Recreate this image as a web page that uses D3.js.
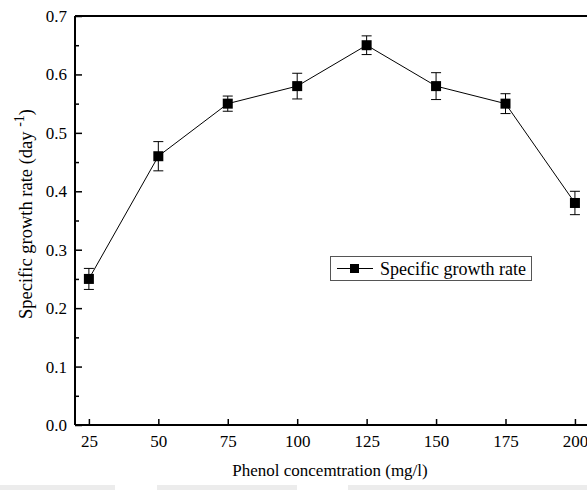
<!DOCTYPE html>
<html><head><meta charset="utf-8">
<script src="https://cdn.jsdelivr.net/npm/d3@7"></script>
<style>body{margin:0;background:#fff}svg{display:block}text{font-family:"Liberation Serif","Times New Roman",serif;fill:#000}</style>
</head><body>
<script>
const concentrations = [25, 50, 75, 100, 125, 150, 175, 200];
const growthRate = [0.25, 0.46, 0.55, 0.58, 0.65, 0.58, 0.55, 0.38];
const errors = [0.018, 0.025, 0.013, 0.022, 0.016, 0.023, 0.017, 0.02];
const xTicks = [25, 50, 75, 100, 125, 150, 175, 200];
const yTicks = [0.0, 0.1, 0.2, 0.3, 0.4, 0.5, 0.6, 0.7];
const seriesName = "Specific growth rate";

const W = 587, H = 490;
const svg = d3.select("body").append("svg").attr("width", W).attr("height", H);
const x = d3.scaleLinear().domain([20, 206]).range([75, 591.6]);
const y = d3.scaleLinear().domain([0, 0.7]).range([425, 16]);

// faint grey bands at bottom (artifact in source)
[[0,115],[157,297],[348,587]].forEach(([a,b])=>{
  svg.append("rect").attr("x",a).attr("y",485).attr("width",b-a).attr("height",5).attr("fill","#ececec");
});

// frame top
svg.append("line").attr("x1",75).attr("x2",W).attr("y1",16).attr("y2",16).attr("stroke","#000").attr("stroke-width",2);

const xAxis = svg.append("g").attr("transform","translate(0,425)")
  .call(d3.axisBottom(x).tickValues(xTicks).tickSize(-6).tickPadding(10).tickFormat(d3.format("d")));
const yAxis = svg.append("g").attr("transform","translate(75,0)")
  .call(d3.axisLeft(y).tickValues(yTicks).tickSize(-7).tickPadding(8).tickFormat(d3.format(".1f")));
const yMinor = svg.append("g").attr("transform","translate(75,0)")
  .call(d3.axisLeft(y).tickValues(d3.range(0.05,0.7,0.1)).tickSize(-4).tickFormat(""));
yMinor.select(".domain").remove();
[xAxis,yAxis,yMinor].forEach(g=>{
  g.selectAll("path.domain").attr("stroke","#000").attr("stroke-width",2);
  g.selectAll(".tick line").attr("stroke","#000").attr("stroke-width",1.5);
  g.selectAll("text").style("font-family","Liberation Serif").style("font-size","17px").attr("fill","#000");
});
xAxis.select(".domain").attr("d","M75,0H"+W);
yAxis.select(".domain").attr("d","M0,16V425");

const data = concentrations.map((c,i)=>({c, v:growthRate[i], e:errors[i]}));

// line
svg.append("path").datum(data)
  .attr("d", d3.line().x(d=>x(d.c)).y(d=>y(d.v)))
  .attr("fill","none").attr("stroke","#000").attr("stroke-width",1);

// error bars
const eb = svg.append("g").attr("stroke","#000").attr("stroke-width",1);
data.forEach(d=>{
  eb.append("line").attr("x1",x(d.c)).attr("x2",x(d.c)).attr("y1",y(d.v-d.e)).attr("y2",y(d.v+d.e));
  [d.v-d.e, d.v+d.e].forEach(v=>eb.append("line").attr("x1",x(d.c)-5).attr("x2",x(d.c)+5).attr("y1",y(v)).attr("y2",y(v)));
});

// markers
svg.append("g").selectAll("rect").data(data).join("rect")
  .attr("x",d=>x(d.c)-5).attr("y",d=>y(d.v)-5).attr("width",10).attr("height",10).attr("fill","#000");

// legend
const lg = svg.append("g");
lg.append("rect").attr("x",330.5).attr("y",256.5).attr("width",201).attr("height",24).attr("fill","#fff").attr("stroke","#555").attr("stroke-width",1);
lg.append("line").attr("x1",337).attr("x2",373).attr("y1",268.5).attr("y2",268.5).attr("stroke","#000");
lg.append("rect").attr("x",350).attr("y",264).attr("width",9).attr("height",9).attr("fill","#000");
lg.append("text").attr("x",380).attr("y",274.5).style("font-size","18px").text(seriesName);

// axis titles
svg.append("text").attr("x",330).attr("y",476).attr("text-anchor","middle").style("font-size","17px").text("Phenol concemtration (mg/l)");
const yl = svg.append("text").attr("transform","translate(32,214) rotate(-90)").attr("text-anchor","middle").style("font-size","18.5px");
yl.append("tspan").text("Specific growth rate (day ");
yl.append("tspan").attr("dy",-8).style("font-size","14px").text("-1");
yl.append("tspan").attr("dy",8).text(")");
</script>
</body></html>
